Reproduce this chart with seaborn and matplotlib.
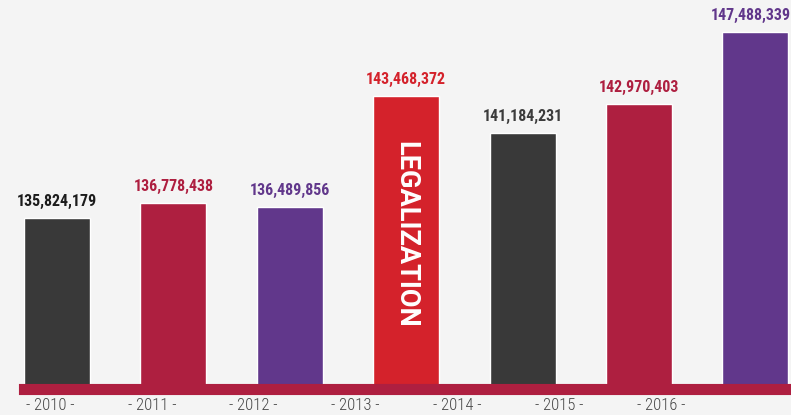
import numpy as np
import pandas as pd
import seaborn as sns
import matplotlib.pyplot as plt

sns.set_theme(style="white")

years = ["2010", "2011", "2012", "2013", "2014", "2015", "2016"]
values = [135824179, 136778438, 136489856, 143468372, 141184231, 142970403, 147488339]
bar_colors = ["#393939", "#ae1f40", "#61378b", "#d4222b", "#393939", "#ae1f40", "#61378b"]
label_colors = ["#1c1c1c", "#ae1f40", "#61378b", "#d4222b", "#3c3c3c", "#ae1f40", "#61378b"]
tick_labels = [f"- {y} -" for y in years]

df = pd.DataFrame({"year": years, "value": values})

fig = plt.figure(figsize=(7.91, 4.15), dpi=100, facecolor="#f4f4f4")
ax = fig.add_axes([24 / 791, 26.5 / 415, 1 - 24 / 791, 1 - 26.5 / 415])
ax.set_facecolor("#f4f4f4")

sns.barplot(data=df, x="year", y="value", hue="year", palette=bar_colors,
            width=0.567, saturation=1, legend=False, ax=ax, zorder=2)

labels = []
for cont, col in zip(ax.containers, label_colors):
    labels += ax.bar_label(cont, labels=[f"{v:,.0f}" for v in cont.datavalues],
                           padding=6.5, color=col, fontsize=11.5, fontweight="bold",
                           family=["Roboto Condensed", "DejaVu Sans"])
# nudge the last label so it stays inside the canvas
labels[-1].xyann = (-3, 6.5)

# legalization note inside the 2013 bar
ymin = 125.11e6
i13 = years.index("2013")
ax.text(i13, (values[i13] + ymin) / 2 + 0.5e6, "LEGALIZATION", rotation=-90,
        ha="center", va="center", color="white", fontsize=19.5, fontweight="bold",
        family=["Roboto", "DejaVu Sans"], zorder=3)

ax.set_xlim(-0.283, 6.306)
ax.set_ylim(ymin, 149.51e6)

for s in ["top", "right", "left"]:
    ax.spines[s].set_visible(False)
ax.spines["bottom"].set_color("#ae1f40")
ax.spines["bottom"].set_linewidth(8)
ax.spines["bottom"].set_zorder(4)

ax.set_xticks(np.arange(len(years)) * 0.875 - 0.06)
ax.set_xticklabels(tick_labels, fontsize=12, color="#454545", fontweight="light",
                   family=["Roboto Condensed", "DejaVu Sans"])
ax.tick_params(axis="x", length=0, pad=7)
ax.set_yticks([])
ax.set_xlabel("")
ax.set_ylabel("")

fig.savefig("out.png", dpi=100, facecolor=fig.get_facecolor())
